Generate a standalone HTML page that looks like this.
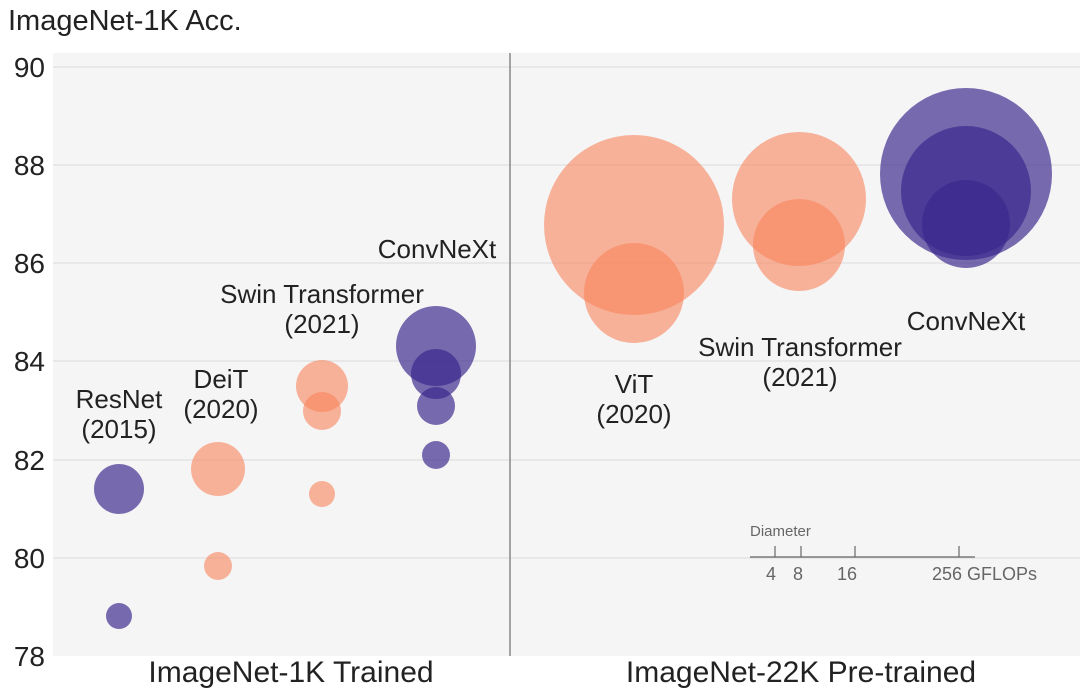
<!DOCTYPE html>
<html><head><meta charset="utf-8"><style>
body{margin:0;background:#fff;}
svg{display:block;font-family:"Liberation Sans",sans-serif;}
</style></head><body>
<svg width="1080" height="696" viewBox="0 0 1080 696">
<rect x="53" y="53" width="1027" height="603" fill="#f5f5f5"/>
<g stroke="#dcdcdc" stroke-width="1">
<line x1="53" x2="1080" y1="67" y2="67"/><line x1="53" x2="1080" y1="165" y2="165"/>
<line x1="53" x2="1080" y1="263" y2="263"/><line x1="53" x2="1080" y1="361" y2="361"/>
<line x1="53" x2="1080" y1="460" y2="460"/><line x1="53" x2="1080" y1="558" y2="558"/>
</g>
<line x1="510" x2="510" y1="53" y2="656" stroke="#888" stroke-width="1.5"/>
<g font-size="28" fill="#222" text-anchor="end">
<text x="45" y="77">90</text><text x="45" y="175">88</text><text x="45" y="273">86</text>
<text x="45" y="371">84</text><text x="45" y="470">82</text><text x="45" y="568">80</text><text x="45" y="666">78</text>
</g>
<text x="8" y="30" font-size="29" fill="#222">ImageNet-1K Acc.</text>
<g font-size="30" fill="#222" text-anchor="middle">
<text x="291" y="682">ImageNet-1K Trained</text>
<text x="801" y="682">ImageNet-22K Pre-trained</text>
</g>
<g fill="rgba(248,132,92,0.6)">
<circle cx="218" cy="469" r="27"/><circle cx="218" cy="566" r="14"/>
<circle cx="322" cy="386" r="26"/><circle cx="322" cy="411" r="19"/><circle cx="322" cy="494" r="13"/>
<circle cx="634" cy="225" r="90"/><circle cx="634" cy="293" r="50"/>
<circle cx="799" cy="199" r="67"/><circle cx="799" cy="245" r="46"/>
</g>
<g fill="rgba(58,38,140,0.68)">
<circle cx="119" cy="489" r="25"/><circle cx="119" cy="616" r="13"/>
<circle cx="436" cy="346" r="40"/><circle cx="436" cy="374" r="25"/><circle cx="436" cy="406" r="19"/><circle cx="436" cy="455" r="14"/>
<circle cx="966" cy="174" r="86"/><circle cx="966" cy="191" r="65"/><circle cx="966" cy="224" r="44"/>
</g>
<g font-size="26" fill="#222" text-anchor="middle">
<text x="119" y="408">ResNet</text><text x="119" y="438">(2015)</text>
<text x="221" y="388">DeiT</text><text x="221" y="418">(2020)</text>
<text x="322" y="303">Swin Transformer</text><text x="322" y="333">(2021)</text>
<text x="437" y="258">ConvNeXt</text>
<text x="634" y="393">ViT</text><text x="634" y="423">(2020)</text>
<text x="800" y="356">Swin Transformer</text><text x="800" y="386">(2021)</text>
<text x="966" y="330">ConvNeXt</text>
</g>
<g stroke="#666" stroke-width="1.2">
<line x1="750" x2="975" y1="557" y2="557"/>
<line x1="775" x2="775" y1="546" y2="557"/><line x1="801" x2="801" y1="546" y2="557"/>
<line x1="855" x2="855" y1="546" y2="557"/><line x1="959" x2="959" y1="546" y2="557"/>
</g>
<text x="750" y="536" font-size="15" fill="#666">Diameter</text>
<g font-size="18" fill="#666" text-anchor="middle">
<text x="771" y="580">4</text><text x="798" y="580">8</text><text x="847" y="580">16</text>
</g>
<text x="932" y="580" font-size="18" fill="#666">256 GFLOPs</text>
</svg>
</body></html>
